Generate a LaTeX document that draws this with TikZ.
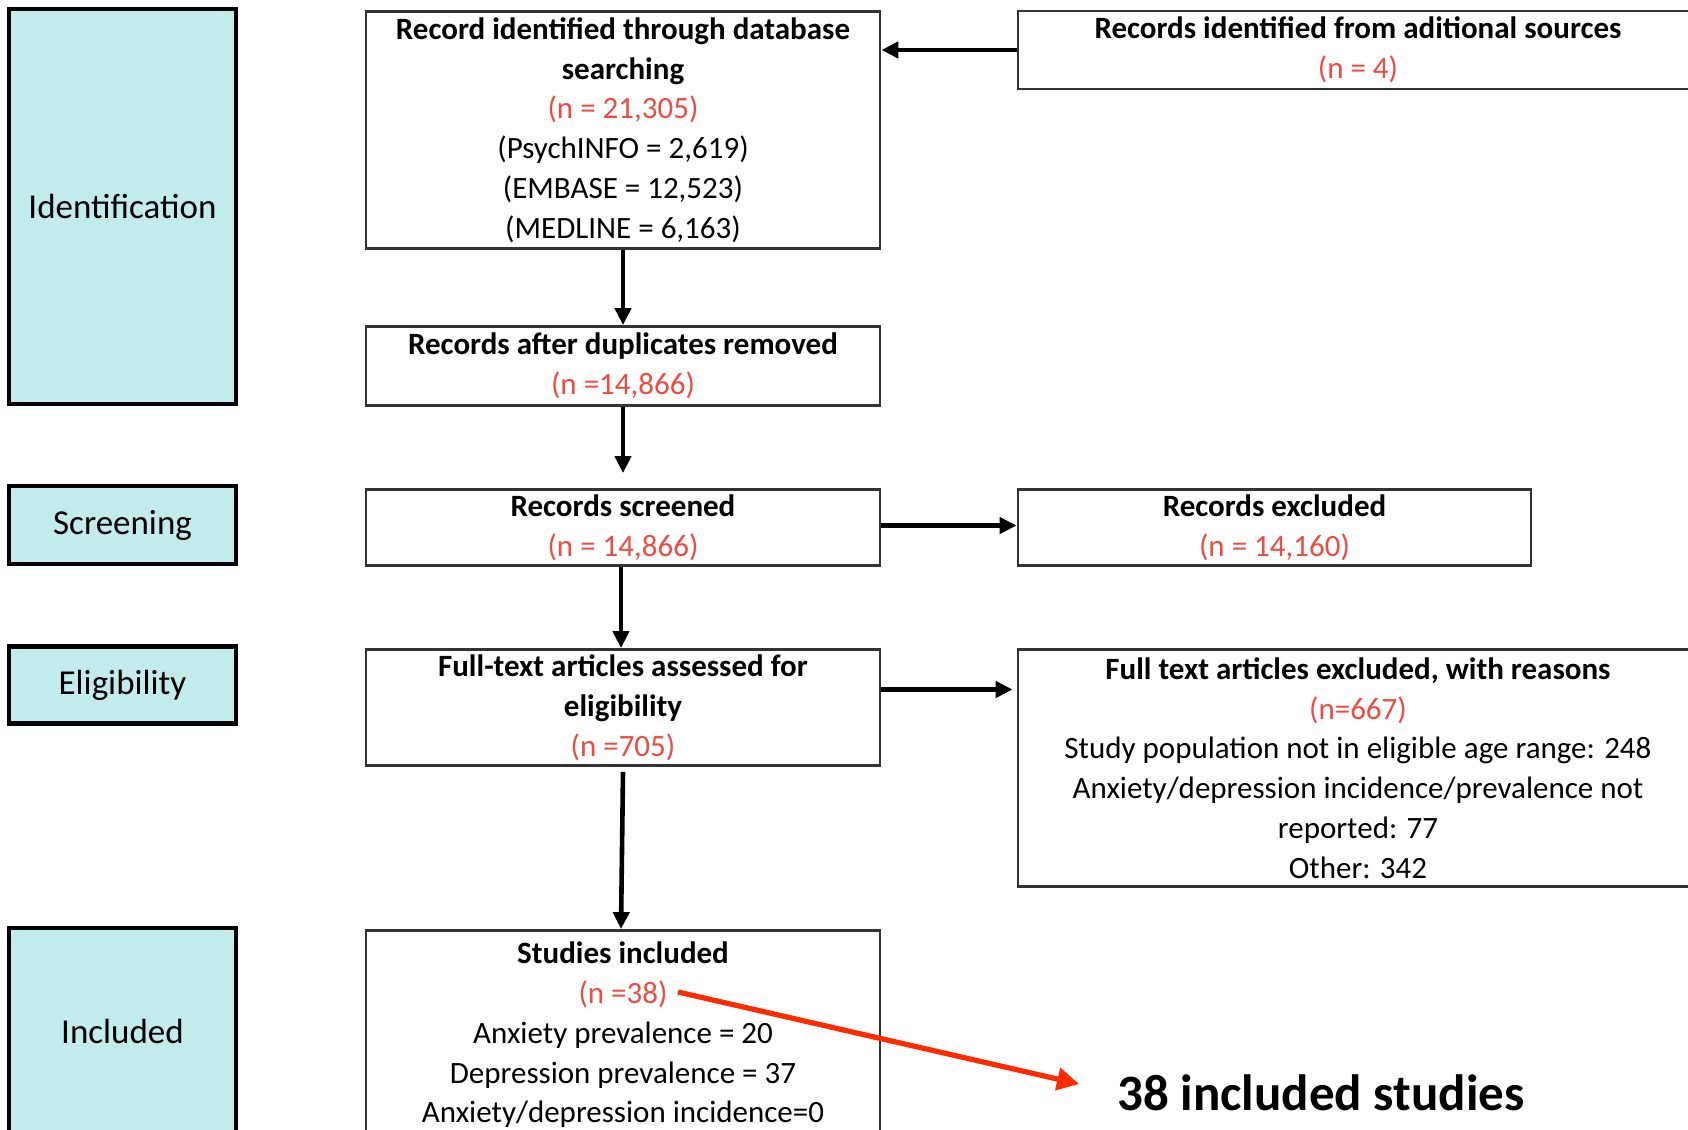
\documentclass[tikz,border=0pt]{standalone}
\usepackage{fontspec}
\setmainfont{Carlito}
\usetikzlibrary{arrows.meta}
\definecolor{sidefill}{HTML}{C2EBEB}
\definecolor{txtred}{HTML}{EE4B43}
\definecolor{arrred}{HTML}{FF2A00}
\newcommand\rd[1]{\textcolor{txtred}{#1}}
\begin{document}
\begin{tikzpicture}[x=0.5pt,y=-0.5pt,
  sidebox/.style={draw=black, line width=2.4pt, fill=sidefill, inner sep=0pt,
    minimum width=113.5pt, font=\fontsize{17.5}{21}\selectfont},
  mainbox/.style={draw=black!80, line width=1.4pt, fill=white, inner sep=0pt,
    align=center, font=\fontsize{15.5}{19.9}\selectfont},
  arr/.style={line width=2.3pt, -{Triangle[length=8.5pt,width=8pt]}},
  redarr/.style={draw=arrred, line width=2.6pt, -{Triangle[length=11pt,width=11pt]}}
]
\useasboundingbox (0,0) rectangle (1688,1130);
\clip (0,0) rectangle (1688,1130);
\fill[white] (0,0) rectangle (1688,1130);

% side phase labels
\node[sidebox, minimum height=197.5pt] (ident) at (122.5,206.5) {Identification};
\node[sidebox, minimum height=39pt] (scrn) at (122.5,525) {Screening};
\node[sidebox, minimum height=38.5pt] (elig) at (122.5,685) {Eligibility};
\node[sidebox, minimum height=103.5pt] (incl) at (122.5,1031.5) {Included};

% main column
\node[mainbox, minimum width=257pt, minimum height=118.5pt] (db) at (623,130)
  {\textbf{Record identified through database}\\\textbf{searching}\\\rd{(n = 21,305)}\\(PsychINFO = 2,619)\\(EMBASE = 12,523)\\(MEDLINE = 6,163)};
\node[mainbox, minimum width=340pt, minimum height=39pt] (add) at (1358,50)
  {\textbf{Records identified from aditional sources}\\\rd{(n = 4)}};
\node[mainbox, minimum width=257pt, minimum height=39.5pt] (dup) at (623,366)
  {\textbf{Records after duplicates removed}\\\rd{(n =14,866)}};
\node[mainbox, minimum width=257pt, minimum height=38pt] (scr) at (623,527.5)
  {\textbf{Records screened}\\\rd{(n = 14,866)}};
\node[mainbox, minimum width=256.5pt, minimum height=38pt] (exc) at (1274.5,527.5)
  {\textbf{Records excluded}\\\rd{(n = 14,160)}};
\node[mainbox, minimum width=257pt, minimum height=58pt] (ft) at (623,707.5)
  {\textbf{Full-text articles assessed for}\\\textbf{eligibility}\\\rd{(n =705)}};
\node[mainbox, minimum width=340pt, minimum height=118.5pt] (rea) at (1358,768)
  {\textbf{Full text articles excluded, with reasons}\\\rd{(n=667)}\\Study population not in eligible age range: 248\\Anxiety/depression incidence/prevalence not\\reported: 77\\Other: 342};
\node[mainbox, minimum width=257pt, minimum height=104.5pt] (st) at (623,1035)
  {\textbf{Studies included}\\\rd{(n =38)}\\Anxiety prevalence = 20\\Depression prevalence = 37\\Anxiety/depression incidence=0};

\node[inner sep=0pt, font=\fontsize{25.5}{30}\selectfont\bfseries] (inc) at (1321,1093) {38 included studies};
\coordinate (n38) at (678,992);

% connectors
\draw[arr] (add.west) -- (add.west -| db.east);
\draw[arr] (db.south) -- (dup.north);
\draw[arr, shorten >=7.5pt] (dup.south) -- (scr.north);
\draw[arr] ([yshift=1pt]scr.east) -- ([yshift=1pt]exc.west);
\draw[arr] ([xshift=-1pt]scr.south) -- ([xshift=-1pt]ft.north);
\draw[arr, shorten >=2pt] ([yshift=9pt]ft.east) -- ([yshift=9pt]ft.east -| rea.west);
\draw[arr] ([yshift=-2.5pt]ft.south) -- ([xshift=-1pt]st.north);
\draw[redarr] (n38) -- ([xshift=-19pt,yshift=4.5pt]inc.west);
\end{tikzpicture}
\end{document}
